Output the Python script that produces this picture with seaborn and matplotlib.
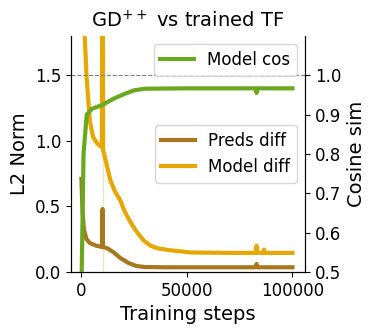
import numpy as np
import pandas as pd
import seaborn as sns
import matplotlib.pyplot as plt

# values
preds_steps = [0, 500, 1200, 2400, 4000, 7000, 9800, 10000, 10200, 12300, 15200, 18500,
               22300, 26000, 30000, 40000, 60000, 82500, 83000, 83500, 100000]
preds_diff = [0.71, 0.47, 0.32, 0.25, 0.22, 0.20, 0.19, 0.48, 0.19, 0.18, 0.15, 0.105,
              0.068, 0.045, 0.037, 0.035, 0.035, 0.035, 0.06, 0.035, 0.035]

model_steps = [0, 1000, 2400, 4000, 5500, 7500, 9700, 10000, 10300, 11500, 13700, 16000,
               18500, 20000, 21800, 24000, 26500, 29500, 32700, 36000, 42200, 51700, 70000,
               82500, 83000, 83500, 86000, 86500, 87000, 100000]
model_diff = [3.0, 2.0, 1.5, 1.15, 1.03, 0.98, 0.95, 3.0, 0.93, 0.85, 0.70, 0.61,
              0.545, 0.48, 0.42, 0.36, 0.30, 0.24, 0.20, 0.18, 0.165, 0.148, 0.145,
              0.145, 0.2, 0.145, 0.145, 0.17, 0.145, 0.145]

cos_steps = [0, 1000, 2500, 5000, 10000, 15000, 20000, 25000, 30000, 50000, 82500, 83000,
             83500, 100000]
model_cos = [0.45, 0.8, 0.9, 0.915, 0.925, 0.94, 0.952, 0.962, 0.966, 0.967, 0.967, 0.955,
             0.967, 0.967]

spike_step = 10000

fig = plt.figure(figsize=(3.73, 3.34), dpi=100)
ax = fig.add_axes([0.19, 0.186, 0.628, 0.706])
ax2 = ax.twinx()

ax.axvline(spike_step, color='#efe3c6', lw=1, zorder=0)

sns.lineplot(x=preds_steps, y=preds_diff, ax=ax, color='#a6781e', lw=3, label='Preds diff')
sns.lineplot(x=model_steps, y=model_diff, ax=ax, color='#e6a800', lw=3, label='Model diff')
sns.lineplot(x=cos_steps, y=model_cos, ax=ax2, color='#6aa820', lw=3, label='Model cos')
ax2.axhline(1.0, color='gray', lw=0.8, ls='--', zorder=0)

ax.set_ylim(0, 1.8)
ax2.set_ylim(0.5, 1.1)
ax.set_xlim(-5000, 106000)
ax.set_yticks([0.0, 0.5, 1.0, 1.5])
ax2.set_yticks([0.5, 0.6, 0.7, 0.8, 0.9, 1.0])

ax.set_xlabel('Training steps', fontsize=14)
ax.set_ylabel('L2 Norm', fontsize=14)
ax2.set_ylabel('Cosine sim', fontsize=14)
ax.set_title('GD$^{++}$ vs trained TF', fontsize=14)
ax.tick_params(labelsize=12)
ax2.tick_params(labelsize=12)

ax.spines['top'].set_visible(False)
ax2.spines['top'].set_visible(False)

ax.legend(loc='center right', fontsize=12)
ax2.legend(loc='upper right', fontsize=12)

fig.savefig('out.png', dpi=100)
